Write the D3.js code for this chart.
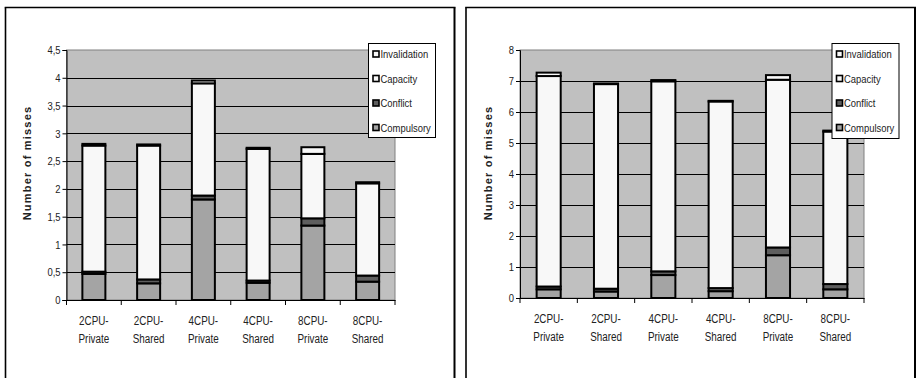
<!DOCTYPE html>
<html>
<head>
<meta charset="utf-8">
<script src="https://cdn.jsdelivr.net/npm/d3@7/dist/d3.min.js"></script>
<style>
  html, body { margin: 0; padding: 0; background: #fff; }
  svg { display: block; }
  .narrow { font-family: "Liberation Sans", Arial, sans-serif; }
</style>
</head>
<body>
<svg id="fig" width="918" height="378"></svg>
<script>
// Miss categories per cache configuration
const categories = ["2CPU-Private", "2CPU-Shared", "4CPU-Private", "4CPU-Shared", "8CPU-Private", "8CPU-Shared"];
const seriesNames = ["Compulsory", "Conflict", "Capacity", "Invalidation"];
const seriesColors = ["#a4a4a4", "#5e5e5e", "#f8f8f8", "#f8f8f8"];

// Left panel
const compulsoryA   = [0.47, 0.30, 1.81, 0.31, 1.34, 0.33];
const conflictA     = [0.04, 0.07, 0.07, 0.04, 0.13, 0.11];
const capacityA     = [2.27, 2.41, 2.02, 2.37, 1.16, 1.66];
const invalidationA = [0.03, 0.02, 0.05, 0.02, 0.12, 0.02];
const ticksA = [0, 0.5, 1, 1.5, 2, 2.5, 3, 3.5, 4, 4.5];

// Right panel
const compulsoryB   = [0.28, 0.21, 0.74, 0.22, 1.38, 0.28];
const conflictB     = [0.09, 0.09, 0.12, 0.10, 0.25, 0.17];
const capacityB     = [6.79, 6.60, 6.13, 6.02, 5.41, 4.92];
const invalidationB = [0.11, 0.02, 0.04, 0.02, 0.15, 0.03];
const ticksB = [0, 1, 2, 3, 4, 5, 6, 7, 8];

const svg = d3.select("#fig");
const fmt = v => String(v).replace(".", ",");

// squeeze Arial-metric glyphs to a narrow face
function condense(sel, k = 0.82) {
  sel.each(function () {
    const len = this.getComputedTextLength();
    if (len > 0) {
      d3.select(this).attr("textLength", len * k).attr("lengthAdjust", "spacingAndGlyphs");
    }
  });
}

function frame(x0, x1, y0) {
  const g = svg.append("g");
  g.append("line").attr("x1", x0).attr("x2", x0).attr("y1", y0).attr("y2", 378)
    .attr("stroke", "#000").attr("stroke-width", 1.6);
  g.append("line").attr("x1", x1).attr("x2", x1).attr("y1", y0).attr("y2", 378)
    .attr("stroke", "#000").attr("stroke-width", 2);
  g.append("line").attr("x1", x0 - 0.8).attr("x2", x1 + 1).attr("y1", y0).attr("y2", y0)
    .attr("stroke", "#000").attr("stroke-width", 1.6);
}

function drawPanel(opt) {
  const { left, right, top, bottom, ticks, data, legend, titleX } = opt;
  const g = svg.append("g");

  const x = d3.scaleBand().domain(categories).range([left, right])
    .paddingInner(0.58).paddingOuter(0.29);
  const y = d3.scaleLinear().domain([0, ticks[ticks.length - 1]]).range([bottom, top]);

  // plot background
  g.append("rect").attr("x", left).attr("y", top)
    .attr("width", right - left).attr("height", bottom - top)
    .attr("fill", "#c0c0c0").attr("stroke", "#808080").attr("stroke-width", 1);

  // gridlines
  g.selectAll("line.grid").data(ticks.slice(1, -1)).join("line")
    .attr("class", "grid")
    .attr("x1", left).attr("x2", right)
    .attr("y1", d => Math.round(y(d)) + 0.5).attr("y2", d => Math.round(y(d)) + 0.5)
    .attr("stroke", "#000").attr("stroke-width", 1);

  // stacked bars
  const rows = categories.map((c, i) => {
    const r = { cat: c };
    seriesNames.forEach((s, k) => r[s] = data[k][i]);
    return r;
  });
  const stacked = d3.stack().keys(seriesNames)(rows);
  stacked.forEach((layer, k) => {
    g.append("g").selectAll("rect").data(layer).join("rect")
      .attr("x", d => x(d.data.cat))
      .attr("width", x.bandwidth())
      .attr("y", d => y(d[1]))
      .attr("height", d => y(d[0]) - y(d[1]))
      .attr("fill", seriesColors[k])
      .attr("stroke", "#000").attr("stroke-width", 2);
  });

  // y axis
  const yAxis = d3.axisLeft(y).tickValues(ticks).tickSize(4).tickPadding(2).tickFormat(fmt);
  const ya = g.append("g").attr("transform", `translate(${left},0)`).call(yAxis);
  ya.select(".domain").attr("stroke", "#000");
  ya.selectAll(".tick line").attr("stroke", "#000");
  ya.selectAll("text").attr("class", "narrow").attr("font-size", 11.5).attr("fill", "#222")
    .call(condense);

  // x axis with ticks on category boundaries
  g.append("line").attr("x1", left - 4).attr("x2", right + 0.5)
    .attr("y1", bottom + 0.5).attr("y2", bottom + 0.5)
    .attr("stroke", "#000").attr("stroke-width", 1);
  const bounds = d3.range(categories.length + 1).map(i => left + i * (right - left) / categories.length);
  g.selectAll("line.xt").data(bounds).join("line")
    .attr("x1", d => d).attr("x2", d => d)
    .attr("y1", bottom).attr("y2", bottom + 5)
    .attr("stroke", "#000").attr("stroke-width", 1);

  const cx = d => x(d) + x.bandwidth() / 2;
  [0, 1].forEach(line => {
    g.append("g").selectAll("text").data(categories).join("text")
      .attr("class", "narrow")
      .attr("text-anchor", "middle")
      .attr("font-size", 12).attr("fill", "#222")
      .attr("x", cx)
      .attr("y", bottom + 25 + line * 18)
      .text(d => line === 0 ? d.split("-")[0] + "-" : d.split("-")[1])
      .call(condense);
  });

  // y title
  g.append("text")
    .attr("transform", `translate(${titleX},163) rotate(-90)`)
    .attr("text-anchor", "middle")
    .attr("font-family", "Liberation Sans, Arial, sans-serif")
    .attr("font-weight", "bold").attr("font-size", 11)
    .attr("letter-spacing", 1.2)
    .attr("fill", "#222")
    .text("Number of misses");

  // legend
  const lg = g.append("g");
  lg.append("rect").attr("x", legend.x).attr("y", legend.y)
    .attr("width", legend.w).attr("height", legend.h)
    .attr("fill", "#fff").attr("stroke", "#000").attr("stroke-width", 1);
  const order = [3, 2, 1, 0];
  order.forEach((k, j) => {
    const cy = legend.y + 10.5 + j * 24.5;
    lg.append("rect").attr("x", legend.x + 4.5).attr("y", cy - 3)
      .attr("width", 6).attr("height", 6)
      .attr("fill", seriesColors[k]).attr("stroke", "#000").attr("stroke-width", 1.6);
    lg.append("text").attr("class", "narrow")
      .attr("x", legend.x + 12).attr("y", cy + 4)
      .attr("font-size", 11.5).attr("fill", "#222")
      .text(seriesNames[k])
      .call(condense);
  });
}

frame(5.5, 454.5, 7.5);
frame(466, 915, 7.5);

drawPanel({
  left: 66.5, right: 395, top: 50, bottom: 300,
  ticks: ticksA,
  data: [compulsoryA, conflictA, capacityA, invalidationA],
  legend: { x: 368.5, y: 43.5, w: 67, h: 94 },
  titleX: 31
});

drawPanel({
  left: 520, right: 864, top: 50, bottom: 298,
  ticks: ticksB,
  data: [compulsoryB, conflictB, capacityB, invalidationB],
  legend: { x: 832, y: 43.5, w: 67, h: 95 },
  titleX: 492
});
</script>
</body>
</html>
